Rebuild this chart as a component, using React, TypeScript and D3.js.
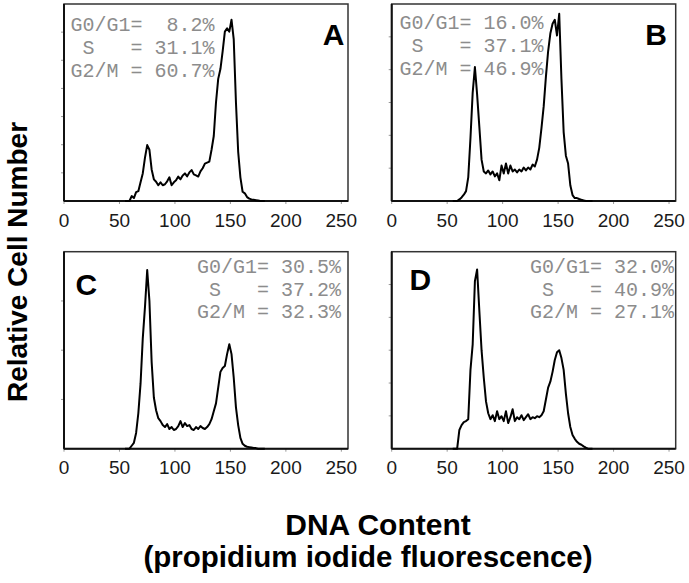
import React from 'react';
import * as d3 from 'd3';

// DNA channel (x) grid shared by all four histograms
const channels = [
  55, 57, 59, 61, 63, 65, 67, 69, 71, 73, 75, 77, 79, 81, 83, 85,
  87, 89, 91, 93, 95, 97, 99, 101, 103, 105, 107, 109, 111, 113, 115, 117,
  119, 121, 123, 125, 127, 129, 131, 133, 135, 137, 139, 141, 143, 145, 147, 149,
  151, 153, 155, 157, 159, 161, 163, 165, 167, 169, 171, 173, 175, 177, 179, 181,
];

// Relative cell number (% of panel full scale)
const countsA = [
  0, 0, 0, 2.5, 1.5, 4.5, 5, 9.5,
  14, 22, 28.4, 26, 16, 11, 9.8, 8,
  9.5, 8, 8.5, 10, 12, 8, 9.5, 10.5,
  12.4, 11, 13, 14, 12.5, 14.5, 15.7, 13.5,
  13, 12.4, 15, 16.6, 19, 19.5, 20, 26,
  33, 50, 62, 67, 76, 86, 87.6, 86,
  92, 82, 50, 25, 12, 4.7, 3.9, 2,
  1.2, 0.8, 0.6, 0.4, 0.2, 0, 0, 0,
];
const countsB = [
  0, 0, 0, 0.8, 1.8, 3.2, 5, 12,
  32, 55, 68, 54, 37.7, 21, 15, 14,
  15.5, 13.5, 15, 12.5, 14, 10.5, 18, 14,
  19, 14, 18, 15, 16, 14.5, 16, 15,
  17, 15.5, 17, 16, 18.5, 17.5, 21, 27,
  37, 48, 63, 76, 85, 90, 92, 84,
  95, 62, 35, 23, 19, 8, 3, 1.5,
  1.5, 1, 0.6, 0.3, 0, 0, 0, 0,
];
const countsC = [
  0, 0, 0, 1.5, 3, 8, 18, 33,
  56, 72, 90.7, 75, 44, 26, 19.5, 15.5,
  14, 12, 11, 12.5, 10, 11, 9.5, 10,
  11.5, 14, 11, 13, 11.5, 12, 10, 9.5,
  11, 10, 11.5, 10.5, 10, 11, 12.5, 15,
  19, 23, 31, 39, 41, 42, 48, 53,
  48, 36, 21, 12, 5.5, 2.5, 1.5, 1,
  0.8, 0.6, 0.4, 0.3, 0, 0, 0, 0,
];
const countsD = [
  0, 0, 0, 9.5, 12, 13.5, 14, 15,
  40, 53, 85, 91, 70, 50, 36, 24,
  18, 15, 17, 14, 19, 15, 16.5, 14,
  19, 13, 16, 20, 14, 16, 15, 17,
  14.5, 16, 17.5, 15, 16, 15.5, 16.5, 16,
  17, 19, 25, 31, 34, 39, 45, 49,
  50, 46, 40, 28, 18, 11, 7, 5,
  3.5, 2.5, 2, 1.2, 0.5, 0, 0, 0,
];

const panelLetters = ['A', 'B', 'C', 'D'];
const statsA = ['G0/G1=  8.2%', ' S   = 31.1%', 'G2/M = 60.7%'];
const statsB = ['G0/G1= 16.0%', ' S   = 37.1%', 'G2/M = 46.9%'];
const statsC = ['G0/G1= 30.5%', ' S   = 37.2%', 'G2/M = 32.3%'];
const statsD = ['G0/G1= 32.0%', ' S   = 40.9%', 'G2/M = 27.1%'];
const xTickValues = [0, 50, 100, 150, 200, 250];
const yTickDivisions = [7, 6, 4, 6];
const xTitle1 = 'DNA Content';
const xTitle2 = '(propidium iodide fluorescence)';
const yTitle = 'Relative Cell Number';

const panelCounts = [countsA, countsB, countsC, countsD];
const panelStats = [statsA, statsB, statsC, statsD];

// Layout (pixels)
const W = 689;
const H = 583;
const PW = 284;
const PH = 197;
const layout = [
  { left: 64, top: 4, letterX: 344.5, letterY: 45, letterAnchor: 'end', statsX: 70.5, statsAnchor: 'start', statsY: [31, 54, 77] },
  { left: 391.7, top: 4, letterX: 667, letterY: 45, letterAnchor: 'end', statsX: 399.5, statsAnchor: 'start', statsY: [29, 52, 75] },
  { left: 64, top: 251.7, letterX: 75.5, letterY: 295, letterAnchor: 'start', statsX: 341, statsAnchor: 'end', statsY: [273, 295.5, 318] },
  { left: 391.7, top: 251.7, letterX: 409.5, letterY: 290, letterAnchor: 'start', statsX: 674, statsAnchor: 'end', statsY: [273, 295.5, 318] },
];

function Panel({ idx }: { idx: number }) {
  const L = layout[idx];
  const x = d3.scaleLinear().domain([0, 256]).range([L.left, L.left + PW]);
  const y = d3.scaleLinear().domain([0, 100]).range([L.top + PH, L.top]);
  const counts = panelCounts[idx];
  const line = d3
    .line<number>()
    .x((_, i) => x(channels[i]))
    .y((d) => y(d))
    .curve(d3.curveLinear);
  const nDiv = yTickDivisions[idx];
  const yTicks = d3.range(1, nDiv).map((i) => (i * 100) / nDiv);
  const bottom = L.top + PH;
  return (
    <g>
      {/* y ticks */}
      {yTicks.map((t) => (
        <line key={'yt' + t} x1={L.left - 3} x2={L.left} y1={y(t)} y2={y(t)} stroke="#999" strokeWidth={1} />
      ))}
      {/* x ticks */}
      {xTickValues.map((t) => (
        <line key={'xt' + t} x1={x(t)} x2={x(t)} y1={bottom} y2={bottom + 3} stroke="#999" strokeWidth={1} />
      ))}
      {/* frame */}
      <rect x={L.left} y={L.top} width={PW} height={PH} fill="none" stroke="#333" strokeWidth={1.5} />
      <line x1={L.left} x2={L.left} y1={L.top} y2={bottom} stroke="#111" strokeWidth={2} />
      <line x1={L.left} x2={L.left + PW} y1={bottom} y2={bottom} stroke="#111" strokeWidth={2} />
      {/* histogram */}
      <path d={line(counts) || ''} fill="none" stroke="#000" strokeWidth={2} strokeLinejoin="round" />
      {/* x tick labels */}
      {xTickValues.map((t) => (
        <text
          key={'xl' + t}
          x={x(t)}
          y={bottom + 25.5}
          textAnchor="middle"
          fontFamily="'Liberation Sans', Arial, sans-serif"
          fontSize={19}
          fill="#1a1a1a"
        >
          {t}
        </text>
      ))}
      {/* stats */}
      {panelStats[idx].map((s, i) => (
        <text
          key={'st' + i}
          x={L.statsX}
          y={L.statsY[i]}
          textAnchor={L.statsAnchor as any}
          fontFamily="'Liberation Mono', 'Courier New', monospace"
          fontSize={20}
          fill="#8c8c8c"
          style={{ whiteSpace: 'pre' }}
        >
          {s}
        </text>
      ))}
      {/* panel letter */}
      <text
        x={L.letterX}
        y={L.letterY}
        textAnchor={L.letterAnchor as any}
        fontFamily="'Liberation Sans', Arial, sans-serif"
        fontWeight="bold"
        fontSize={30}
        fill="#000"
      >
        {panelLetters[idx]}
      </text>
    </g>
  );
}

export default function App() {
  return (
    <svg
      width={W}
      height={H}
      viewBox={`0 0 ${W} ${H}`}
      style={{ position: 'absolute', left: 0, top: 0, background: '#fff' }}
    >
      <rect x={0} y={0} width={W} height={H} fill="#fff" />
      {[0, 1, 2, 3].map((i) => (
        <Panel key={i} idx={i} />
      ))}
      <text
        transform={`translate(27,262) rotate(-90)`}
        textAnchor="middle"
        fontFamily="'Liberation Sans', Arial, sans-serif"
        fontWeight="bold"
        fontSize={28}
        fill="#000"
      >
        {yTitle}
      </text>
      <text
        x={378}
        y={535}
        textAnchor="middle"
        fontFamily="'Liberation Sans', Arial, sans-serif"
        fontWeight="bold"
        fontSize={30}
        fill="#000"
      >
        {xTitle1}
      </text>
      <text
        x={368}
        y={567}
        textAnchor="middle"
        fontFamily="'Liberation Sans', Arial, sans-serif"
        fontWeight="bold"
        fontSize={29.5}
        fill="#000"
      >
        {xTitle2}
      </text>
    </svg>
  );
}
